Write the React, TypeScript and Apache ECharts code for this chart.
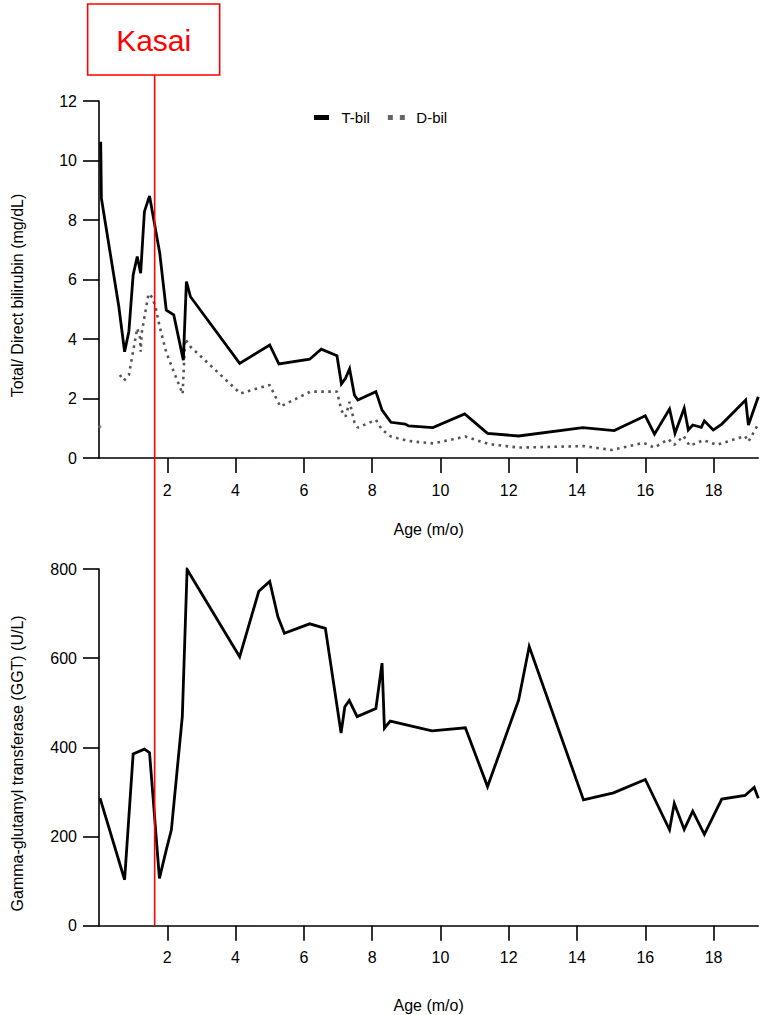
import React, { useEffect, useRef } from "react";
import * as echarts from "echarts";

// ---- Data ----
const tbilAge = [0.05, 0.07, 0.58, 0.75, 0.875, 1.0, 1.12, 1.22, 1.33, 1.48, 1.78, 1.97, 2.19, 2.47, 2.56, 2.68, 4.12, 5.0, 5.27, 6.17, 6.51, 6.97, 7.1, 7.22, 7.34, 7.48, 7.58, 8.11, 8.29, 8.55, 8.97, 9.07, 9.78, 10.71, 11.38, 12.29, 14.17, 15.09, 16.0, 16.27, 16.71, 16.87, 17.14, 17.26, 17.39, 17.64, 17.73, 17.99, 18.24, 18.94, 19.02, 19.31];
const tbil = [10.63, 8.73, 5.09, 3.57, 4.25, 6.15, 6.77, 6.21, 8.28, 8.81, 6.88, 4.97, 4.81, 3.29, 5.93, 5.42, 3.18, 3.8, 3.16, 3.32, 3.66, 3.44, 2.49, 2.68, 3.0, 2.12, 1.95, 2.23, 1.61, 1.2, 1.14, 1.08, 1.02, 1.48, 0.83, 0.74, 1.02, 0.92, 1.42, 0.8, 1.65, 0.83, 1.67, 0.94, 1.11, 1.03, 1.25, 0.94, 1.14, 1.95, 1.11, 2.06];

const dbilFirstAge = [0.02];
const dbilFirst = [1.05];
const dbilAge = [0.61, 0.73, 0.875, 1.12, 1.2, 1.22, 1.25, 1.45, 1.56, 1.66, 1.78, 1.97, 2.19, 2.45, 2.52, 2.68, 4.14, 4.63, 5.0, 5.31, 6.19, 6.97, 7.1, 7.22, 7.34, 7.48, 7.58, 8.11, 8.29, 8.55, 8.97, 9.22, 9.8, 10.73, 11.41, 12.29, 14.19, 15.02, 15.95, 16.26, 16.68, 16.85, 17.12, 17.3, 17.7, 18.1, 18.92, 19.02, 19.31];
const dbil = [2.79, 2.6, 2.79, 4.36, 4.05, 3.57, 4.2, 5.52, 5.4, 5.05, 4.4, 3.55, 2.9, 2.15, 4.0, 3.74, 2.17, 2.34, 2.45, 1.73, 2.23, 2.23, 1.6, 1.39, 1.89, 1.2, 1.02, 1.28, 0.95, 0.72, 0.6, 0.55, 0.49, 0.72, 0.47, 0.35, 0.4, 0.27, 0.51, 0.35, 0.63, 0.44, 0.74, 0.41, 0.6, 0.44, 0.74, 0.55, 1.14];

const ggtAge = [0.03, 0.75, 1.0, 1.33, 1.48, 1.77, 1.97, 2.12, 2.44, 2.58, 4.12, 4.68, 5.0, 5.24, 5.43, 6.17, 6.63, 7.09, 7.2, 7.33, 7.56, 8.11, 8.29, 8.36, 8.53, 9.75, 10.73, 11.38, 12.29, 12.6, 14.19, 15.07, 16.0, 16.71, 16.85, 17.14, 17.39, 17.73, 18.24, 18.92, 19.19, 19.31];
const ggt = [286, 103, 385, 396, 388, 106, 170, 215, 469, 799, 603, 750, 772, 693, 656, 677, 667, 432, 491, 505, 469, 487, 589, 443, 459, 437, 444, 312, 506, 626, 282, 298, 328, 215, 274, 216, 257, 205, 284, 292, 310, 286];

const xTicks = [2, 4, 6, 8, 10, 12, 14, 16, 18];
const xMax = 19.31;
const kasaiAge = 1.63;
const kasaiLabel = "Kasai";

const zip = (a: number[], b: number[]) => a.map((x, i) => [x, b[i]]);

const FONT = "Liberation Sans, Arial, Helvetica, sans-serif";

export default function App() {
  const ref = useRef<HTMLDivElement>(null);

  useEffect(() => {
    if (!ref.current) return;
    const chart = echarts.init(ref.current, null, { renderer: "svg" });

    const lineCol = { color: "#000", width: 1.6 };

    const xAxis = (idx: number, gap: number) => ({
      type: "value",
      gridIndex: idx,
      min: 0,
      max: xMax,
      interval: 2,
      name: "Age (m/o)",
      nameLocation: "middle",
      nameGap: gap,
      nameTextStyle: { fontFamily: FONT, fontSize: 16, color: "#000" },
      axisLine: { show: true, onZero: false, lineStyle: lineCol },
      axisTick: { show: true, length: 15, lineStyle: lineCol, customValues: xTicks },
      axisLabel: { fontFamily: FONT, fontSize: 16, color: "#000", margin: 24, customValues: xTicks },
      splitLine: { show: false },
    });

    const yAxis = (idx: number, name: string, max: number, interval: number) => ({
      type: "value",
      gridIndex: idx,
      min: 0,
      max,
      interval,
      name,
      nameLocation: "middle",
      nameGap: 74,
      nameTextStyle: { fontFamily: FONT, fontSize: 16, color: "#000", padding: [0, 32, 0, 0] },
      axisLine: { show: true, lineStyle: lineCol },
      axisTick: { show: true, length: 16, lineStyle: lineCol },
      axisLabel: { fontFamily: FONT, fontSize: 16, color: "#000", margin: 22 },
      splitLine: { show: false },
    });

    chart.setOption({
      animation: false,
      backgroundColor: "#fff",
      grid: [
        { left: 99, top: 101, width: 659.3, height: 357 },
        { left: 99, top: 569, width: 659.3, height: 356.7 },
      ],
      legend: {
        top: 105,
        left: 309,
        itemWidth: 22,
        itemHeight: 5,
        itemGap: 18,
        symbolKeepAspect: true,
        textStyle: { fontFamily: FONT, fontSize: 15, color: "#000", padding: [0, 0, 0, 4] },
        data: [
          { name: "T-bil", icon: "path://M0,0h15v5h-15z", itemStyle: { color: "#000" } },
          { name: "D-bil", icon: "path://M0,0h5v5h-5z M12,0h5v5h-5z", itemStyle: { color: "#666" } },
        ],
      },
      xAxis: [xAxis(0, 63), xAxis(1, 72)],
      yAxis: [
        yAxis(0, "Total/ Direct bilirubin (mg/dL)", 12, 2),
        yAxis(1, "Gamma-glutamyl transferase (GGT) (U/L)", 800, 200),
      ],
      series: [
        {
          name: "T-bil",
          type: "line",
          xAxisIndex: 0,
          yAxisIndex: 0,
          data: zip(tbilAge, tbil),
          symbol: "none",
          color: "#000",
          lineStyle: { color: "#000", width: 2.8, join: "miter" },
          z: 3,
        },
        {
          name: "D-bil",
          type: "line",
          xAxisIndex: 0,
          yAxisIndex: 0,
          data: zip(dbilAge, dbil),
          symbol: "none",
          color: "#555",
          lineStyle: { color: "#555", width: 2.6, type: [2.6, 4.4] },
          z: 2,
        },
        {
          name: "D-bil",
          type: "scatter",
          xAxisIndex: 0,
          yAxisIndex: 0,
          data: zip(dbilFirstAge, dbilFirst),
          symbol: "circle",
          symbolSize: 3.5,
          itemStyle: { color: "#666" },
          z: 4,
        },
        {
          name: "GGT",
          type: "line",
          xAxisIndex: 1,
          yAxisIndex: 1,
          data: zip(ggtAge, ggt),
          symbol: "none",
          color: "#000",
          lineStyle: { color: "#000", width: 2.8, join: "miter" },
        },
      ],
    });

    const lineX = chart.convertToPixel({ xAxisIndex: 0 }, kasaiAge) as number;
    const bottomY = chart.convertToPixel({ yAxisIndex: 1 }, 0) as number;

    chart.setOption({
      graphic: [
        {
          type: "line",
          z: 100,
          shape: { x1: lineX, y1: 75, x2: lineX, y2: bottomY },
          style: { stroke: "#ff0000", lineWidth: 1.6 },
        },
        {
          type: "rect",
          z: 100,
          shape: { x: lineX - 67, y: 4, width: 132, height: 71 },
          style: { fill: "#fff", stroke: "#ff0000", lineWidth: 1.6 },
        },
        {
          type: "text",
          z: 101,
          x: lineX - 1,
          y: 40,
          style: {
            text: kasaiLabel,
            fill: "#ff0000",
            fontSize: 30,
            fontFamily: FONT,
            align: "center",
            verticalAlign: "middle",
          },
        },
      ],
    });

    return () => {
      chart.dispose();
    };
  }, []);

  return (
    <div
      ref={ref}
      style={{ position: "absolute", left: 0, top: 0, width: 765, height: 1015, background: "#fff" }}
    />
  );
}
